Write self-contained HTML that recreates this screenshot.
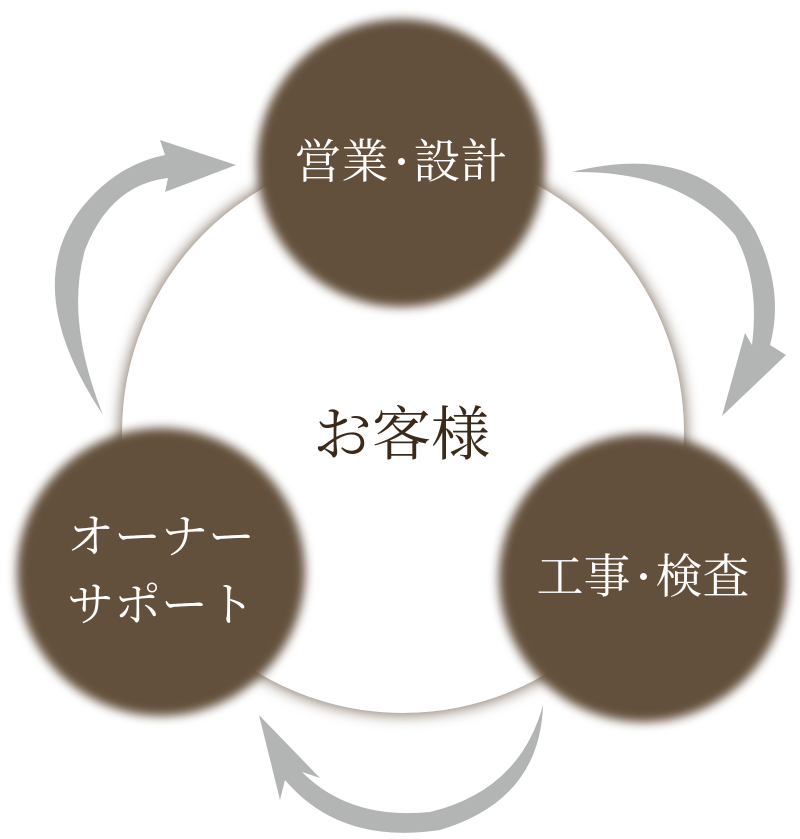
<!DOCTYPE html>
<html><head><meta charset="utf-8"><style>
html,body{margin:0;padding:0;background:#fff;width:800px;height:839px;overflow:hidden}
.wrap{position:relative;width:800px;height:839px}
.big{position:absolute;left:122px;top:151px;width:562px;height:562px;border-radius:50%;background:#fff;box-shadow:0 0 14px 2px rgba(99,80,60,0.75)}
.bg{position:absolute;width:288px;height:288px;border-radius:50%;background:#63503c;filter:blur(5px)}
.c{position:absolute;width:286px;height:286px;display:flex;align-items:center;justify-content:center;color:#fff;font-family:"Liberation Serif","Noto Serif CJK SC",serif;font-size:47px;line-height:68px;text-align:center;white-space:nowrap}
.d{display:inline-block;width:7px;height:7px;border-radius:50%;background:#fff;margin:0 9px;vertical-align:middle;position:relative;top:-2px}
.t{position:absolute;font-family:"Liberation Serif","Noto Serif CJK SC",serif;color:#3b2a1a;font-size:59px;line-height:70px}
svg{position:absolute;left:0;top:0}
</style></head><body><div class="wrap">
<svg width="800" height="839">
<g fill="#b3b5b4">
<path d="M572,172 Q700,140 755,230 Q785,290 770,345 L786,355 L722,416 L745,333 L752,345 Q760,280 735,235 Q680,170 572,172 Z"/>
<path d="M103,415 Q20,290 80,210 Q115,165 165,155 L160,140 L236,165 L165,192 L168,178 Q110,185 85,250 Q65,320 103,415 Z"/>
<path d="M543,705 Q540,800 440,830 Q340,845 285,780 L280,800 L259,715 L320,778 L302,772 Q350,820 430,812 Q520,790 543,705 Z"/>
</g></svg>
<div class="big"></div>
<div class="t" style="left:313px;top:400px">お客様</div>
<div class="bg" style="left:257px;top:19px"></div>
<div class="bg" style="left:17px;top:428px"></div>
<div class="bg" style="left:499px;top:434px"></div>
<div class="c" style="left:258px;top:20px">営業<span class="d"></span>設計</div>
<div class="c" style="left:18px;top:429px">オーナー<br>サポート</div>
<div class="c" style="left:500px;top:435px">工事<span class="d"></span>検査</div>
</div></body></html>
